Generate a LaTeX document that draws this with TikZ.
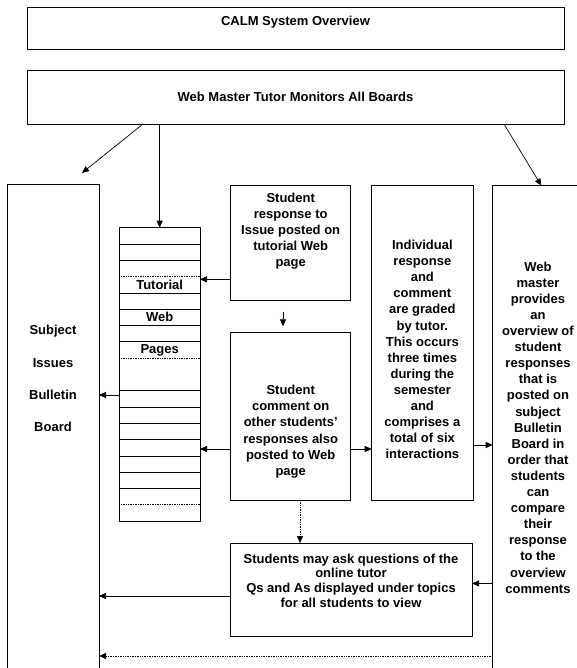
\documentclass[tikz,border=0pt]{standalone}
\usepackage{fontspec}
\setmainfont{Liberation Sans}
\usetikzlibrary{arrows.meta}

\tikzset{
	box/.style={draw, line width=.7pt, inner sep=0pt, outer sep=0pt},
	txt/.style={align=center, inner sep=0pt, font=\bfseries\fontsize{13}{16.1}\selectfont},
	arr/.style={-{Triangle[length=7pt,width=6pt]}, line width=.7pt},
	dots/.style={densely dotted}
}

\begin{document}
\begin{tikzpicture}[x=1pt, y=-1pt]
	\useasboundingbox (0,0) rectangle (577,668);
	\clip (0,0) rectangle (577,668);
	% top boxes
	\node[box, minimum width=537pt, minimum height=42pt] (calm) at (295.5,28) {};
	\node[txt] (calmT) at (295.5,22.5) {CALM System Overview};
	\node[box, minimum width=537pt, minimum height=54pt] (web) at (295.5,97) {};
	\node[txt] (webT) at (295.5,97) {Web Master Tutor Monitors All Boards};
	% columns
	\node[box, minimum width=92pt, minimum height=506pt] (board) at (53,437) {};
	\node[txt, font=\bfseries\fontsize{13}{32.3}\selectfont] (boardT) at (53,378.5) {Subject\\Issues\\Bulletin\\Board};
	\node[box, minimum width=80.7pt, minimum height=293.3pt] (list) at (159.65,374.35) {};
	\node[box, minimum width=120pt, minimum height=115pt] (resp) at (290.7,243.2) {};
	\node[txt] (respT) at (290.7,231.3) {Student\\response to\\Issue posted on\\tutorial Web\\page};
	\node[box, minimum width=120pt, minimum height=167.7pt] (comm) at (290.7,416.15) {};
	\node[txt] (commT) at (290.7,431.7) {Student\\comment on\\other students'\\responses also\\posted to Web\\page};
	\node[box, minimum width=101.3pt, minimum height=314.3pt] (indiv) at (422.35,342.85) {};
	\node[txt] (indivT) at (422.35,349.5) {Individual\\response\\and\\comment\\are graded\\by tutor.\\This occurs\\three times\\during the\\semester\\and\\comprises a\\total of six\\interactions};
	\node[box, minimum width=97.3pt, minimum height=504.3pt] (wm) at (541.35,437.85) {};
	\node[txt] (wmT) at (538,427.5) {Web\\master\\provides\\an\\overview of\\student\\responses\\that is\\posted on\\subject\\Bulletin\\Board in\\order that\\students\\can\\compare\\their\\response\\to the\\overview\\comments};
	\node[box, minimum width=242pt, minimum height=93.3pt] (ask) at (351,589.65) {};
	\node[txt, font=\bfseries\fontsize{13}{14.7}\selectfont] (askT) at (351,580.4) {Students may ask questions of the\\online tutor\\Qs and As displayed under topics\\for all students to view};
	% web page rows
	\def\rowh{16.3}
	\foreach \k in {1,2,4,5,6,7,10,11,12,13,14,15,16}{
		\draw[line width=.7pt] (list.north west) ++(0,\k*\rowh) -- ++(80.7,0);
	}
	\foreach \k in {3,8,17}{
		\draw[line width=.7pt, dots] (list.north west) ++(0,\k*\rowh) -- ++(80.7,0);
	}
	\foreach \w [count=\i] in {Tutorial, Web, Pages}{
		\path (list.north) ++(0,{(2*\i+1.5)*\rowh}) node[txt] (page\i) {\w};
	}
	% arrow levels
	\coordinate (tl) at (82,173);
	\coordinate (xl) at (143,0);
	\coordinate (xr) at (504,0);
	\coordinate (xc) at (283,0);
	\coordinate (xd) at (300,0);
	\coordinate (yA) at (0,279.3);
	\coordinate (yB) at (0,449);
	\coordinate (yC) at (0,445);
	\coordinate (yD) at (0,395);
	\coordinate (yE) at (0,596);
	\coordinate (yF) at (0,583.4);
	\coordinate (yG) at (0,656);
	% connectors
	\draw[arr] (xl |- web.south) -- (tl);
	\draw[arr] (web.south -| list.north) -- (list.north);
	\draw[arr] (xr |- web.south) -- (wm.north);
	\draw[arr] (resp.west |- yA) -- (list.east |- yA);
	\draw[arr, shorten <=11pt, shorten >=6pt] (xc |- resp.south) -- (xc |- comm.north);
	\draw[arr] (comm.west |- yB) -- (list.east |- yB);
	\draw[arr] (comm.east |- yB) -- (indiv.west |- yB);
	\draw[arr] (indiv.east |- yC) -- (wm.west |- yC);
	\draw[arr] (list.west |- yD) -- (board.east |- yD);
	\draw[arr, dots] (xd |- comm.south) -- (xd |- ask.north);
	\draw[arr] (ask.west |- yE) -- (board.east |- yE);
	\draw[arr] (wm.west |- yF) -- (ask.east |- yF);
	\draw[arr, dots] (wm.west |- yG) -- (board.east |- yG);
\end{tikzpicture}
\end{document}
